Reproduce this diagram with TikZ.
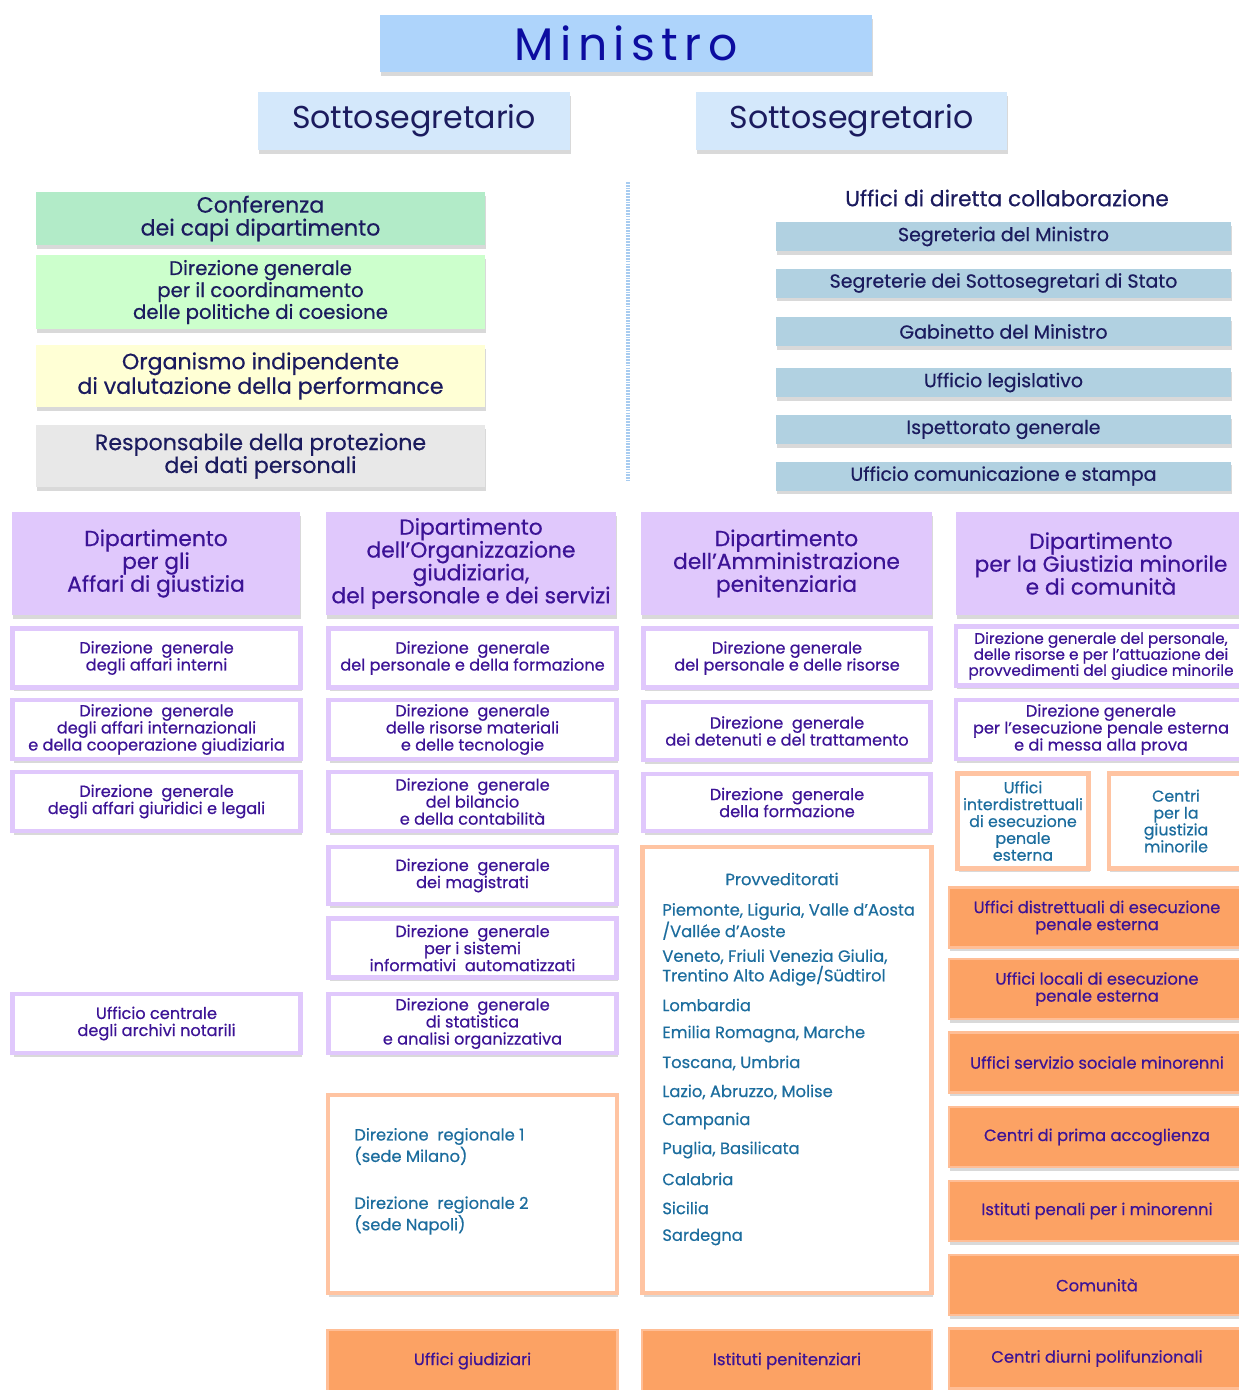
\documentclass[tikz,border=0pt]{standalone}
\usepackage{fontspec}
\setmainfont{Poppins}[FakeBold=0.5]
\newfontfamily\plainfont{Poppins}
\newfontfamily\ministrofont[LetterSpace=14]{Poppins}
\usetikzlibrary{shadows}
\definecolor{MinBlue}{HTML}{AED4FB}
\definecolor{SotBlue}{HTML}{D4E8FB}
\definecolor{ConfGreen}{HTML}{B2EBC8}
\definecolor{CoordGreen}{HTML}{CCFFCC}
\definecolor{OivYellow}{HTML}{FFFFD5}
\definecolor{RpdGray}{HTML}{E8E8E8}
\definecolor{UdcBlue}{HTML}{B1D1E1}
\definecolor{Lav}{HTML}{E0C8FC}
\definecolor{Peach}{HTML}{FFC4A2}
\definecolor{Orng}{HTML}{FCA264}
\definecolor{OrngEdge}{HTML}{FFBE96}
\definecolor{Navy}{HTML}{1B1B5E}
\definecolor{Indigo}{HTML}{3C1396}
\definecolor{Teal}{HTML}{1C6D9E}
\definecolor{MinText}{HTML}{0C0CA0}
\definecolor{DotBlue}{HTML}{A8CCF0}

\tikzset{
  sz/.style 2 args={minimum width=#1*0.02cm, minimum height=#2*0.02cm},
  box/.style={rectangle, inner sep=1pt, align=center,
    drop shadow={opacity=0.3, shadow xshift=0.6pt, shadow yshift=-2pt}},
  topbox/.style={box, text=Navy},
  udcbox/.style={box, fill=UdcBlue, text=Navy, font=\fontsize{10.8}{12}\selectfont, sz={455}{29}},
  deptbox/.style={box, fill=Lav, text=Indigo, font=\fontsize{12.4}{13}\selectfont},
  dgbox/.style={box, fill=white, draw=Lav, line width=2.8pt, text=Indigo, font=\fontsize{9.2}{9.7}\selectfont},
  peachbox/.style={box, fill=white, draw=Peach, line width=2.5pt, text=Teal, font=\fontsize{9.2}{9.7}\selectfont},
  orngbox/.style={box, fill=Orng, draw=OrngEdge, line width=1.5pt, text=Indigo, font=\fontsize{9.3}{9.7}\selectfont},
  provtext/.style={anchor=west, align=left, text=Teal, font=\fontsize{9.3}{9.7}\selectfont, inner sep=0pt}
}

\begin{document}
\begin{tikzpicture}[x=0.02cm, y=-0.02cm]
  \useasboundingbox (0,0) rectangle (1239,1390);
  \clip (0,0) rectangle (1239,1390);

  % Vertice
  \node[topbox, fill=MinBlue, text=MinText, sz={492}{57}, font=\ministrofont\fontsize{26}{28}\selectfont] (min) at (626,43.5) {Ministro};
  \node[topbox, fill=SotBlue, sz={312}{58}, font=\plainfont\fontsize{18}{20}\selectfont] (sotL) at (414,121) {Sottosegretario};
  \node[topbox, fill=SotBlue, sz={311}{58}, font=\plainfont\fontsize{18}{20}\selectfont] (sotR) at (851.5,121) {Sottosegretario};

  % Organi di staff (sinistra)
  \node[topbox, fill=ConfGreen, sz={449}{53}, font=\fontsize{12.6}{13}\selectfont] (conf) at (260.5,218.5) {Conferenza\\dei capi dipartimento};
  \node[topbox, fill=CoordGreen, sz={449}{74}, font=\fontsize{11.2}{11.3}\selectfont] (coord) at (260.5,292) {Direzione generale\\per il coordinamento\\delle politiche di coesione};
  \node[topbox, fill=OivYellow, sz={449}{62}, font=\fontsize{12.6}{13}\selectfont] (oiv) at (260.5,376) {Organismo indipendente\\di valutazione della performance};
  \node[topbox, fill=RpdGray, sz={449}{62}, font=\fontsize{12.6}{13}\selectfont] (rpd) at (260.5,456) {Responsabile della protezione\\dei dati personali};

  % Separatore
  \coordinate (sepTop) at (628,182);
  \coordinate (sepBot) at (628,480);
  \draw[DotBlue, line width=2.5pt, dash pattern=on 1pt off 0.6pt] (sepTop) -- (sepBot);

  % Uffici di diretta collaborazione
  \node[text=Navy, font=\fontsize{12.4}{13}\selectfont] (udc) at (1007,198) {Uffici di diretta collaborazione};
  \node[udcbox] (seg) at (1003.5,236.5) {Segreteria del Ministro};
  \node[udcbox] (segSS) at (1003.5,283) {Segreterie dei Sottosegretari di Stato};
  \node[udcbox] (gab) at (1003.5,331.5) {Gabinetto del Ministro};
  \node[udcbox] (leg) at (1003.5,382.5) {Ufficio legislativo};
  \node[udcbox] (isp) at (1003.5,429.5) {Ispettorato generale};
  \node[udcbox] (ucs) at (1003.5,476) {Ufficio comunicazione e stampa};

  % Dipartimenti
  \node[deptbox, sz={288}{103}] (dag) at (156,563.5) {Dipartimento\\per gli\\Affari di giustizia};
  \node[deptbox, sz={290}{103}] (dog) at (471,563.5) {Dipartimento\\dell'Organizzazione\\giudiziaria,\\del personale e dei servizi};
  \node[deptbox, sz={291}{103}] (dap) at (786.5,563.5) {Dipartimento\\dell'Amministrazione\\penitenziaria};
  \node[deptbox, sz={290}{103}] (dgm) at (1101,563.5) {Dipartimento\\per la Giustizia minorile\\e di comunità};

  % Affari di giustizia
  \node[dgbox, sz={288}{59}] (dagA) at (156.5,658) {Direzione\ \ generale\\degli affari interni};
  \node[dgbox, sz={288}{59}] (dagB) at (156.5,729.5) {Direzione\ \ generale\\degli affari internazionali\\e della cooperazione giudiziaria};
  \node[dgbox, sz={288}{59}] (dagC) at (156.5,801.5) {Direzione\ \ generale\\degli affari giuridici e legali};
  \node[dgbox, sz={288}{59}] (dagD) at (156.5,1023.5) {Ufficio centrale\\degli archivi notarili};

  % Organizzazione giudiziaria
  \node[dgbox, sz={288}{59}] (dogA) at (472.5,658) {Direzione\ \ generale\\del personale e della formazione};
  \node[dgbox, sz={288}{59}] (dogB) at (472.5,729.5) {Direzione\ \ generale\\delle risorse materiali\\e delle tecnologie};
  \node[dgbox, sz={288}{59}] (dogC) at (472.5,801.5) {Direzione\ \ generale\\del bilancio\\e della contabilità};
  \node[dgbox, sz={288}{57}] (dogD) at (472.5,875.5) {Direzione\ \ generale\\dei magistrati};
  \node[dgbox, sz={288}{59}] (dogE) at (472.5,948) {Direzione\ \ generale\\per i sistemi\\informativi\ \ automatizzati};
  \node[dgbox, sz={288}{59}] (dogF) at (472.5,1023.5) {Direzione\ \ generale\\di statistica\\e analisi organizzativa};
  \node[peachbox, sz={289}{198}] (dogR) at (472.5,1194) {};
  \node[provtext] (dogR1) at (354,1146.5) {Direzione\ \ regionale 1\\(sede Milano)};
  \node[provtext] (dogR2) at (354,1215.5) {Direzione\ \ regionale 2\\(sede Napoli)};
  \node[orngbox, sz={290}{62}] (ugiu) at (472.5,1361) {Uffici giudiziari};

  % Amministrazione penitenziaria
  \node[dgbox, sz={287}{59}] (dapA) at (787,658) {Direzione generale\\del personale e delle risorse};
  \node[dgbox, sz={287}{58}] (dapB) at (787,731) {Direzione\ \ generale\\dei detenuti e del trattamento};
  \node[dgbox, sz={287}{57}] (dapC) at (787,802.5) {Direzione\ \ generale\\della formazione};
  \node[peachbox, sz={289}{446}] (prov) at (787,1070) {};
  \node[text=Teal, font=\fontsize{9.3}{9.7}\selectfont] (provT) at (782,879) {Provveditorati};
  \foreach \y/\t [count=\i] in {921.5/{Piemonte, Liguria, Valle d'Aosta\\/Vallée d'Aoste},
      967.5/{Veneto, Friuli Venezia Giulia,\\Trentino Alto Adige/Südtirol},
      1005/Lombardia, 1034/{Emilia Romagna, Marche}, 1063/{Toscana, Umbria},
      1092/{Lazio, Abruzzo, Molise}, 1121/Campania, 1150/{Puglia, Basilicata},
      1179/Calabria, 1208/Sicilia, 1237/Sardegna}
    \node[provtext] (prov\i) at (662,\y) {\t};
  \node[orngbox, sz={290}{62}] (ipen) at (787,1361) {Istituti penitenziari};

  % Giustizia minorile e di comunità
  \node[dgbox, sz={290}{59}, font=\fontsize{8.7}{9.1}\selectfont] (dgmA) at (1101,656) {Direzione generale del personale,\\delle risorse e per l'attuazione dei\\provvedimenti del giudice minorile};
  \node[dgbox, sz={290}{59}] (dgmB) at (1101,729.5) {Direzione generale\\per l'esecuzione penale esterna\\e di messa alla prova};
  \node[peachbox, sz={131}{95}, font=\fontsize{9}{9.6}\selectfont] (uiepe) at (1023,821) {Uffici\\interdistrettuali\\di esecuzione\\penale\\esterna};
  \node[peachbox, sz={134}{95}, font=\fontsize{9}{9.6}\selectfont] (cgm) at (1176,821) {Centri\\per la\\giustizia\\minorile};
  \foreach \y/\t [count=\i] in {917.5/{Uffici distrettuali di esecuzione\\penale esterna},
      989/{Uffici locali di esecuzione\\penale esterna},
      1062.5/{Uffici servizio sociale minorenni},
      1137/{Centri di prima accoglienza},
      1211/{Istituti penali per i minorenni},
      1285/{Comunità},
      1358.5/{Centri diurni polifunzionali}}
    \node[orngbox, sz={296}{60}] (dgmO\i) at (1097,\y) {\t};
\end{tikzpicture}
\end{document}
